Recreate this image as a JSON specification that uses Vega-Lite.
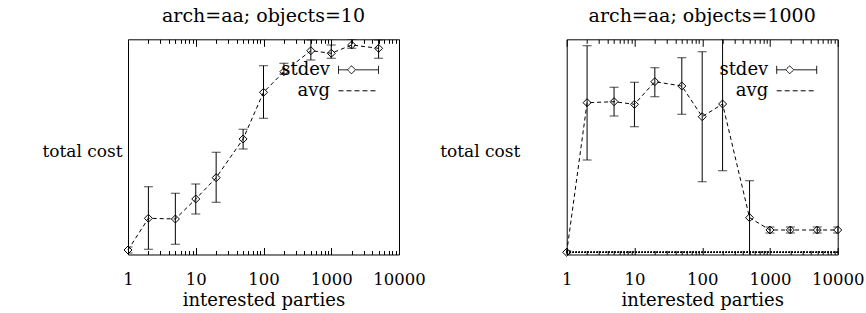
{
  "$schema": "https://vega.github.io/schema/vega-lite/v6.json",
  "autosize": {"type": "none"},
  "padding": {"left": 128, "top": 39.3, "right": 738, "bottom": 273.7},
  "background": "white",
  "bounds": "flush",
  "spacing": 167.7,
  "config": {
    "font": "DejaVu Serif",
    "view": {"stroke": "black", "strokeWidth": 1},
    "title": {"font": "DejaVu Serif", "fontSize": 19, "fontWeight": "normal", "color": "black", "baseline": "bottom", "offset": 13},
    "axis": {"labelFont": "DejaVu Serif", "titleFont": "DejaVu Serif", "labelFontSize": 16.5, "titleFontSize": 18, "titleFontWeight": "normal", "labelColor": "black", "titleColor": "black", "grid": false, "domain": false, "tickColor": "black", "tickWidth": 1}
  },
  "resolve": {"scale": {"color": "independent"}, "legend": {"color": "independent"}},
  "hconcat": [
    {
      "title": "arch=aa; objects=10",
      "width": 271,
      "height": 215.2,
      "data": {"values": [
        {"parties": 1, "avg": 2.25, "lo": 0.75, "hi": 3.75},
        {"parties": 2, "avg": 18.1, "lo": 2.6, "hi": 33.9},
        {"parties": 5, "avg": 17.75, "lo": 5.1, "hi": 30.6},
        {"parties": 10, "avg": 27.75, "lo": 20.25, "hi": 35.25},
        {"parties": 20, "avg": 38.4, "lo": 26.1, "hi": 51.1},
        {"parties": 50, "avg": 57.75, "lo": 52.75, "hi": 62.6},
        {"parties": 100, "avg": 81.1, "lo": 68.1, "hi": 94.4},
        {"parties": 200, "avg": 91.4, "lo": 90.25, "hi": 95.6},
        {"parties": 500, "avg": 101.9, "lo": 97.25, "hi": 107.25},
        {"parties": 1000, "avg": 100.6, "lo": 98.1, "hi": 104.75},
        {"parties": 2000, "avg": 104.75, "lo": 103.1, "hi": 107.6},
        {"parties": 5000, "avg": 103.1, "lo": 98.1, "hi": 107.25}
      ]},
      "resolve": {"axis": {"x": "independent"}},
      "layer": [
        {
          "mark": {"type": "rule", "clip": true, "color": "black", "strokeWidth": 1},
          "encoding": {
            "x": {"field": "parties", "type": "quantitative", "scale": {"type": "log", "domain": [1, 10000], "nice": false},
              "axis": {"orient": "bottom", "values": [1,2,3,4,5,6,7,8,9,10,20,30,40,50,60,70,80,90,100,200,300,400,500,600,700,800,900,1000,2000,3000,4000,5000,6000,7000,8000,9000,10000],
                "format": "d", "labelExpr": "abs(log(datum.value)/LN10 - round(log(datum.value)/LN10)) < 0.001 ? datum.label : ''",
                "tickSize": {"condition": {"test": "abs(log(datum.value)/LN10 - round(log(datum.value)/LN10)) < 0.001", "value": -7}, "value": -4},
                "labelPadding": 24, "labelFlush": false, "labelOverlap": false, "title": "interested parties", "titlePadding": 1}},
            "y": {"field": "lo", "type": "quantitative", "scale": {"domain": [0, 107.6], "nice": false, "zero": false},
              "axis": {"ticks": false, "labels": false, "domain": false, "title": "total cost", "titleAngle": 0, "titleAlign": "center", "titleBaseline": "middle", "titleX": -46, "titleY": 112, "titleFontSize": 17}},
            "y2": {"field": "hi"}
          }
        },
        {
          "mark": {"type": "tick", "orient": "horizontal", "size": 9, "thickness": 1, "color": "black", "clip": true},
          "encoding": {"x": {"field": "parties", "type": "quantitative", "axis": null}, "y": {"field": "lo", "type": "quantitative"}}
        },
        {
          "mark": {"type": "tick", "orient": "horizontal", "size": 9, "thickness": 1, "color": "black", "clip": true},
          "encoding": {"x": {"field": "parties", "type": "quantitative", "axis": null}, "y": {"field": "hi", "type": "quantitative"}}
        },
        {
          "mark": {"type": "line", "strokeDash": [4, 3], "strokeWidth": 1},
          "encoding": {
            "x": {"field": "parties", "type": "quantitative", "axis": null},
            "y": {"field": "avg", "type": "quantitative"},
            "color": {"datum": "avg", "type": "nominal", "scale": {"domain": ["stdev", "avg"], "range": ["black", "black"]},
              "legend": {"orient": "none", "legendX": 220, "legendY": 20, "title": null, "direction": "vertical", "symbolSize": 400, "labelAlign": "right", "labelOffset": -39, "labelFontSize": 18, "labelFont": "DejaVu Serif", "labelColor": "black", "labelBaseline": "middle", "rowPadding": 1, "padding": 0,
                "encode": {"symbols": {"update": {
                  "shape": {"signal": "datum.value === 'avg' ? 'M-2,0H2' : 'M-2,-0.4V0.4M-2,0H-1.1M-0.3,0H2M2,-0.4V0.4M-1.1,0L-0.7,-0.4L-0.3,0L-0.7,0.4Z'"},
                  "stroke": {"value": "black"}, "fill": {"value": "transparent"}, "strokeWidth": {"value": 1},
                  "strokeDash": {"signal": "datum.value === 'avg' ? [5, 3] : [1, 0]"}, "opacity": {"value": 1}}}}}}
          }
        },
        {
          "mark": {"type": "point", "shape": "diamond", "filled": false, "size": 64, "color": "black", "strokeWidth": 1, "opacity": 1},
          "encoding": {"x": {"field": "parties", "type": "quantitative", "axis": null}, "y": {"field": "avg", "type": "quantitative"}}
        },
        {
          "mark": {"type": "point", "opacity": 0},
          "encoding": {
            "x": {"field": "parties", "type": "quantitative",
              "axis": {"orient": "top", "values": [1,2,3,4,5,6,7,8,9,10,20,30,40,50,60,70,80,90,100,200,300,400,500,600,700,800,900,1000,2000,3000,4000,5000,6000,7000,8000,9000,10000],
                "labels": false, "title": null,
                "tickSize": {"condition": {"test": "abs(log(datum.value)/LN10 - round(log(datum.value)/LN10)) < 0.001", "value": -7}, "value": -4}}},
            "y": {"field": "avg", "type": "quantitative"}
          }
        }
      ]
    },
    {
      "title": "arch=aa; objects=1000",
      "width": 271,
      "height": 215.2,
      "data": {"values": [
        {"parties": 1, "avg": 0, "lo": -0.8, "hi": 0.8},
        {"parties": 2, "avg": 74.8, "lo": 46.15, "hi": 103.3},
        {"parties": 5, "avg": 75.3, "lo": 68.15, "hi": 82.5},
        {"parties": 10, "avg": 74, "lo": 62.8, "hi": 85},
        {"parties": 20, "avg": 85.3, "lo": 77.8, "hi": 92.3},
        {"parties": 50, "avg": 83.15, "lo": 69, "hi": 97.3},
        {"parties": 100, "avg": 67.8, "lo": 35.3, "hi": 100.3},
        {"parties": 200, "avg": 74.15, "lo": 40.8, "hi": 115},
        {"parties": 500, "avg": 17.3, "lo": -20, "hi": 35.8},
        {"parties": 1000, "avg": 11.15, "lo": 9.65, "hi": 12.65},
        {"parties": 2000, "avg": 11.15, "lo": 9.65, "hi": 12.65},
        {"parties": 5000, "avg": 11.15, "lo": 9.65, "hi": 12.65},
        {"parties": 10000, "avg": 11.15, "lo": 9.65, "hi": 12.65}
      ]},
      "resolve": {"axis": {"x": "independent"}},
      "layer": [
        {
          "mark": {"type": "rule", "strokeDash": [1, 2], "color": "black", "strokeWidth": 1},
          "encoding": {"y": {"datum": 0, "type": "quantitative"}}
        },
        {
          "mark": {"type": "rule", "clip": true, "color": "black", "strokeWidth": 1},
          "encoding": {
            "x": {"field": "parties", "type": "quantitative", "scale": {"type": "log", "domain": [1, 10000], "nice": false},
              "axis": {"orient": "bottom", "values": [1,2,3,4,5,6,7,8,9,10,20,30,40,50,60,70,80,90,100,200,300,400,500,600,700,800,900,1000,2000,3000,4000,5000,6000,7000,8000,9000,10000],
                "format": "d", "labelExpr": "abs(log(datum.value)/LN10 - round(log(datum.value)/LN10)) < 0.001 ? datum.label : ''",
                "tickSize": {"condition": {"test": "abs(log(datum.value)/LN10 - round(log(datum.value)/LN10)) < 0.001", "value": -7}, "value": -4},
                "labelPadding": 24, "labelFlush": false, "labelOverlap": false, "title": "interested parties", "titlePadding": 1}},
            "y": {"field": "lo", "type": "quantitative", "scale": {"domain": [-1.1, 106.5], "nice": false, "zero": false},
              "axis": {"ticks": false, "labels": false, "domain": false, "title": "total cost", "titleAngle": 0, "titleAlign": "center", "titleBaseline": "middle", "titleX": -87, "titleY": 112, "titleFontSize": 17}},
            "y2": {"field": "hi"}
          }
        },
        {
          "mark": {"type": "tick", "orient": "horizontal", "size": 9, "thickness": 1, "color": "black", "clip": true},
          "encoding": {"x": {"field": "parties", "type": "quantitative", "axis": null}, "y": {"field": "lo", "type": "quantitative"}}
        },
        {
          "mark": {"type": "tick", "orient": "horizontal", "size": 9, "thickness": 1, "color": "black", "clip": true},
          "encoding": {"x": {"field": "parties", "type": "quantitative", "axis": null}, "y": {"field": "hi", "type": "quantitative"}}
        },
        {
          "mark": {"type": "line", "strokeDash": [4, 3], "strokeWidth": 1},
          "encoding": {
            "x": {"field": "parties", "type": "quantitative", "axis": null},
            "y": {"field": "avg", "type": "quantitative"},
            "color": {"datum": "avg", "type": "nominal", "scale": {"domain": ["stdev", "avg"], "range": ["black", "black"]},
              "legend": {"orient": "none", "legendX": 219.5, "legendY": 20, "title": null, "direction": "vertical", "symbolSize": 400, "labelAlign": "right", "labelOffset": -39, "labelFontSize": 18, "labelFont": "DejaVu Serif", "labelColor": "black", "labelBaseline": "middle", "rowPadding": 1, "padding": 0,
                "encode": {"symbols": {"update": {
                  "shape": {"signal": "datum.value === 'avg' ? 'M-2,0H2' : 'M-2,-0.4V0.4M-2,0H-1.1M-0.3,0H2M2,-0.4V0.4M-1.1,0L-0.7,-0.4L-0.3,0L-0.7,0.4Z'"},
                  "stroke": {"value": "black"}, "fill": {"value": "transparent"}, "strokeWidth": {"value": 1},
                  "strokeDash": {"signal": "datum.value === 'avg' ? [5, 3] : [1, 0]"}, "opacity": {"value": 1}}}}}}
          }
        },
        {
          "mark": {"type": "point", "shape": "diamond", "filled": false, "size": 64, "color": "black", "strokeWidth": 1, "opacity": 1},
          "encoding": {"x": {"field": "parties", "type": "quantitative", "axis": null}, "y": {"field": "avg", "type": "quantitative"}}
        },
        {
          "mark": {"type": "point", "opacity": 0},
          "encoding": {
            "x": {"field": "parties", "type": "quantitative",
              "axis": {"orient": "top", "values": [1,2,3,4,5,6,7,8,9,10,20,30,40,50,60,70,80,90,100,200,300,400,500,600,700,800,900,1000,2000,3000,4000,5000,6000,7000,8000,9000,10000],
                "labels": false, "title": null,
                "tickSize": {"condition": {"test": "abs(log(datum.value)/LN10 - round(log(datum.value)/LN10)) < 0.001", "value": -7}, "value": -4}}},
            "y": {"field": "avg", "type": "quantitative"}
          }
        }
      ]
    }
  ]
}
